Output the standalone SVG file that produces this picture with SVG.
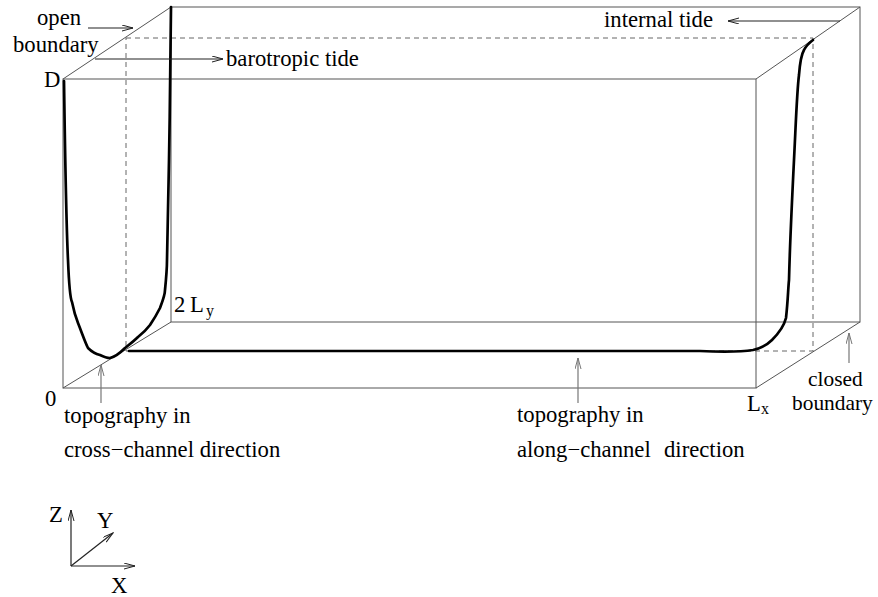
<svg xmlns="http://www.w3.org/2000/svg" width="878" height="597" viewBox="0 0 878 597">
<style>
text{font-family:"Liberation Serif","Times New Roman",serif;font-size:22.7px;fill:#000}
.sub{font-size:16px}
.sm{font-size:21.4px}
.box{stroke:#555;stroke-width:1;fill:none}
.dash{stroke:#666;stroke-width:1;fill:none;stroke-dasharray:5,4}
.thick{stroke:#000;stroke-width:2.7;fill:none;stroke-linejoin:round;stroke-linecap:round}
.arr{stroke:#222;stroke-width:1.2;fill:none;marker-end:url(#ah)}
.garr{stroke:#777;stroke-width:1.2;fill:none;marker-end:url(#gah)}
</style>
<defs>
<marker id="ah" markerUnits="userSpaceOnUse" markerWidth="12" markerHeight="8" refX="11" refY="3" orient="auto"><path d="M0,0 L11,3 L0,6" fill="none" stroke="#222" stroke-width="1"/></marker>
<marker id="gah" markerUnits="userSpaceOnUse" markerWidth="12" markerHeight="8" refX="11" refY="3" orient="auto"><path d="M0,0 L11,3 L0,6" fill="none" stroke="#777" stroke-width="1"/></marker>
</defs>
<g id="box">
<rect class="box" x="171" y="7" width="689" height="315"/>
<rect class="box" x="63" y="79" width="693" height="309"/>
<path class="box" d="M63,79 L171,7 M756,79 L860,7 M63,388 L171,322 M756,388 L860,322"/>
</g>
<g id="midplane">
<path class="dash" d="M126,38 L813,38 L813,351 L126,351 Z"/>
</g>
<g id="cross-channel-topography">
<path class="thick" d="M64,81 C65,150 66,220 68,260 C69,285 71,300 72,302 C74,312 76,318 78,323 C82,333 85,342 88,348 C92,352 96,354 100,355 C104,357 107,358 110,358 C115,357 120,353 125,348 C130,344 134,341 138,337 C143,333 147,329 150,325 C154,319 157,314 160,308 C163,300 165,295 165,290 C166,280 167,270 167,260 C168,200 169,160 169,160 C170,110 170,80 171,7"/>
</g>
<g id="along-channel-topography">
<path class="thick" d="M129,351 L700,351 C725,352 740,352 753,350 C762,348 768,344 772,340 C779,333 784,326 786,318 C788,300 788,290 789,280 C790,240 792,200 794,160 C796,120 797,90 799,75 C800,62 801,55 804,50 C806,46 809,43 813,40"/>
</g>
<g id="connectors">
<path class="arr" d="M88,28 L133,28"/>
<path class="arr" d="M95,59 L223,59"/>
<path class="arr" d="M840,21 L728,21"/>
<path class="garr" d="M101,403 L101,365"/>
<path class="garr" d="M578,403 L578,358"/>
<path class="garr" d="M849,363 L849,333"/>
</g>
<g id="labels">
<text x="37" y="25">open</text>
<text x="13" y="52">boundary</text>
<text x="226" y="66">barotropic tide</text>
<text x="604" y="27">internal tide</text>
<text x="44" y="87">D</text>
<text x="45" y="406">0</text>
<text x="174" y="312">2</text><text x="190" y="312">L</text><text class="sub" x="206" y="316">y</text>
<text x="747" y="411">L</text><text class="sub" x="761" y="414">x</text>
<text x="64" y="423">topography in</text>
<text x="64" y="457">cross−channel direction</text>
<text x="517" y="422">topography in</text>
<text x="517" y="457">along−channel</text>
<text x="664" y="457">direction</text>
<text class="sm" x="808" y="386">closed</text>
<text class="sm" x="792" y="410">boundary</text>
</g>
<g id="axes">
<path class="arr" d="M71,566 L71,510"/>
<path class="arr" d="M71,566 L135,566"/>
<path class="arr" d="M71,566 L113,533"/>
<text x="49" y="522">Z</text>
<text x="97" y="528">Y</text>
<text x="111" y="593">X</text>
</g>
</svg>
